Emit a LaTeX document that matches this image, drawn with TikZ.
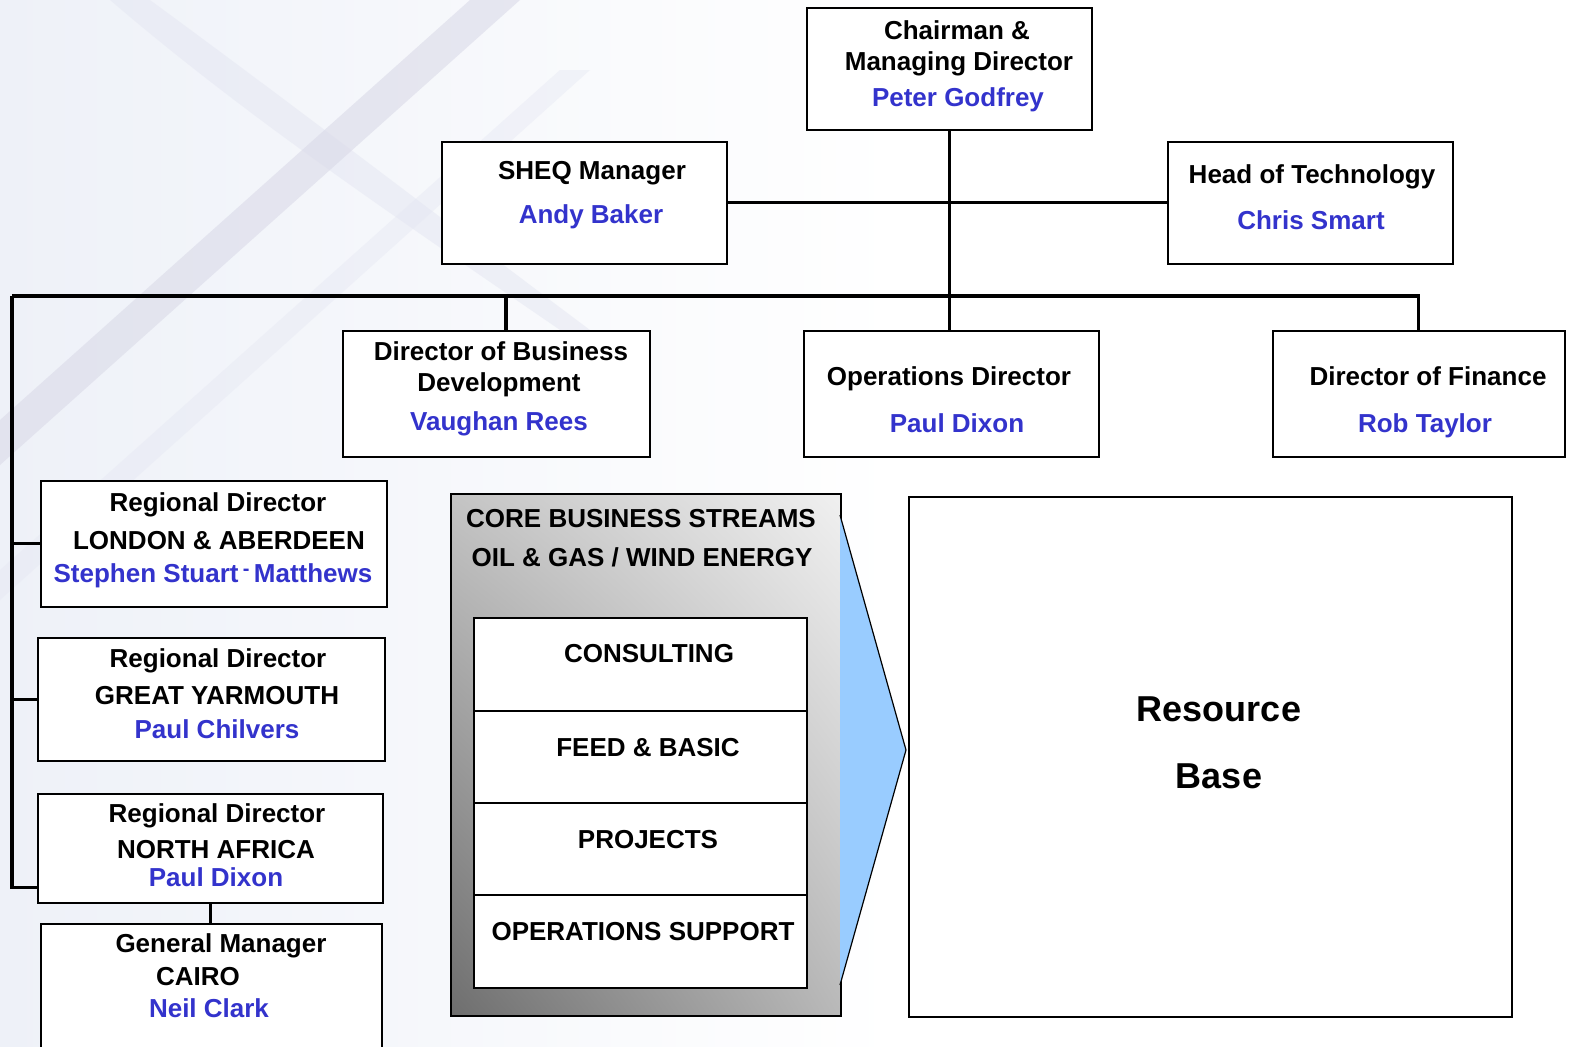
\documentclass[tikz,border=0pt]{standalone}
\usepackage{fontspec}
\setmainfont{Liberation Sans}
\usetikzlibrary{shadings}
\definecolor{namecol}{RGB}{51,51,204}
\definecolor{arrowblue}{RGB}{153,204,255}
\definecolor{bgpale}{RGB}{238,241,248}
\definecolor{bgband}{RGB}{218,218,232}
\definecolor{bgarc}{RGB}{228,230,242}
\begin{document}
\begin{tikzpicture}[x=1pt,y=-1pt,
  box/.style={draw=black, line width=1.6pt, fill=white, anchor=north west, inner sep=0pt},
  tl/.style={anchor=base, inner sep=0pt, font=\fontsize{26}{30}\selectfont\bfseries},
  nm/.style={tl, text=namecol},
  big/.style={anchor=base, inner sep=0pt, font=\fontsize{36}{40}\selectfont\bfseries},
  conn/.style={line width=3.2pt}]
\useasboundingbox (0,0) rectangle (1596,1047);
% background
\shade[left color=bgpale, right color=white] (0,0) rectangle (900,1047);
\fill[bgarc, opacity=0.5] (110,0) .. controls (250,120) and (400,220) .. (560,330) -- (590,330) .. controls (430,210) and (300,110) .. (150,0) -- cycle;
\fill[bgband, opacity=0.6] (0,420) -- (470,0) -- (520,0) -- (0,465) -- cycle;
\fill[bgarc, opacity=0.4] (0,570) -- (560,70) -- (590,70) -- (0,600) -- cycle;

% top boxes
\node[box, minimum width=285pt, minimum height=122pt] (chair) at (806,7) {};
\node[tl] (chair1) at (957,39) {Chairman \&};
\node[tl] (chair2) at (959,70) {Managing Director};
\node[nm] (chair3) at (958,106) {Peter Godfrey};

\node[box, minimum width=285pt, minimum height=122pt] (sheq) at (441,141) {};
\node[tl] (sheq1) at (592,179) {SHEQ Manager};
\node[nm] (sheq2) at (591,223) {Andy Baker};

\node[box, minimum width=285pt, minimum height=122pt] (head) at (1167,141) {};
\node[tl] (head1) at (1312,183) {Head of Technology};
\node[nm] (head2) at (1311,229) {Chris Smart};

% directors
\node[box, minimum width=307pt, minimum height=126pt] (bdev) at (342,330) {};
\node[tl] (bdev1) at (501,360) {Director of Business};
\node[tl] (bdev2) at (499,391) {Development};
\node[nm] (bdev3) at (499,430) {Vaughan Rees};

\node[box, minimum width=295pt, minimum height=126pt] (ops) at (803,330) {};
\node[tl] (ops1) at (949,385) {Operations Director};
\node[nm] (ops2) at (957,432) {Paul Dixon};

\node[box, minimum width=292pt, minimum height=126pt] (fin) at (1272,330) {};
\node[tl] (fin1) at (1428,385) {Director of Finance};
\node[nm] (fin2) at (1425,432) {Rob Taylor};

% regional boxes
\node[box, minimum width=346pt, minimum height=126pt] (lon) at (40,480) {};
\node[tl] (lon1) at (218,511) {Regional Director};
\node[tl] (lon2) at (219,549) {LONDON \& ABERDEEN};
\node[nm] (lon3) at (213,582) {Stephen Stuart\,\raisebox{7pt}{\fontsize{20}{20}\selectfont -}\,Matthews};

\node[box, minimum width=347pt, minimum height=123pt] (gy) at (37,637) {};
\node[tl] (gy1) at (218,667) {Regional Director};
\node[tl] (gy2) at (217,704) {GREAT YARMOUTH};
\node[nm] (gy3) at (217,738) {Paul Chilvers};

\node[box, minimum width=345pt, minimum height=109pt] (na) at (37,793) {};
\node[tl] (na1) at (217,822) {Regional Director};
\node[tl] (na2) at (216,858) {NORTH AFRICA};
\node[nm] (na3) at (216,886) {Paul Dixon};

\node[box, minimum width=341pt, minimum height=140pt] (gm) at (40,923) {};
\node[tl] (gm1) at (221,952) {General Manager};
\node[tl] (gm2) at (198,985) {CAIRO};
\node[nm] (gm3) at (209,1017) {Neil Clark};

% core business streams
\node[draw=black, line width=1.6pt, anchor=north west, inner sep=0pt,
      minimum width=390pt, minimum height=522pt, shade,
      shading=bilinear interpolation,
      upper left={rgb,255:red,196;green,196;blue,196},
      upper right={rgb,255:red,240;green,240;blue,240},
      lower left={rgb,255:red,110;green,110;blue,110},
      lower right={rgb,255:red,185;green,185;blue,185}] (core) at (450,493) {};
\node[tl] (core1) at (641,527) {CORE BUSINESS STREAMS};
\node[tl] (core2) at (642,566) {OIL \& GAS / WIND ENERGY};

\node[box, minimum width=333pt, minimum height=93pt] (cons) at (473,617) {};
\node[tl] (cons1) at (649,662) {CONSULTING};
\node[box, minimum width=333pt, minimum height=92pt] (feed) at (473,710) {};
\node[tl] (feed1) at (648,756) {FEED \& BASIC};
\node[box, minimum width=333pt, minimum height=92pt] (proj) at (473,802) {};
\node[tl] (proj1) at (648,848) {PROJECTS};
\node[box, minimum width=333pt, minimum height=93pt] (osup) at (473,894) {};
\node[tl] (osup1) at (643,940) {OPERATIONS SUPPORT};

% arrow triangle
\coordinate (triA) at (840,515);
\coordinate (triB) at (906,750);
\coordinate (triC) at (840,985);
\fill[arrowblue] (triA) -- (triB) -- (triC) -- cycle;
\draw[line width=1.2pt, line join=miter] (triA) -- (triB) -- (triC);

% resource base
\node[box, minimum width=603pt, minimum height=520pt] (res) at (908,496) {};
\node[big] (res1) at (1219,721) {Resource};
\node[big] (res2) at (1219,788) {Base};

% connectors
\coordinate (busL) at (12,296);
\coordinate (bdevJ) at (506,296);
\draw[conn] (chair.south) -- (chair.south |- ops.north);
\draw[conn] (sheq.east) -- (head.west);
\draw[conn] (busL) -- (busL -| fin.north) -- (fin.north);
\draw[conn] (bdevJ) -- (bdevJ |- bdev.north);
\draw[conn] (busL) |- ([yshift=16pt]na.south west);
\draw[conn] (lon.west -| busL) -- (lon.west);
\draw[conn] (gy.west -| busL) -- (gy.west);
\draw[conn] (na.south) -- (na.south |- gm.north);
\end{tikzpicture}
\end{document}
